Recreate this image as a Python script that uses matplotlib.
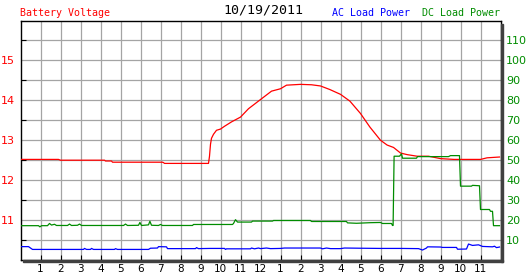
import numpy as np
import matplotlib
matplotlib.use('Agg')
import matplotlib.pyplot as plt
from matplotlib.patches import Rectangle

# Battery voltage (hour of day, volts)
volt_hours = [0, 1.9, 2.0, 4.2, 4.25, 4.55, 4.6, 7.1, 7.15, 7.2, 9.4, 9.45, 9.5, 9.55,
              9.65, 9.8, 10.0, 10.2, 10.55, 11.0, 11.4, 12.0, 12.55, 13.0, 13.3, 14.0,
              14.55, 15.0, 15.47, 16.0, 16.47, 17.0, 17.47, 18.0, 18.33, 18.65, 19.0,
              19.33, 19.83, 20.4, 21.0, 21.67, 23.0, 23.33, 23.95]
volt_values = [12.52, 12.52, 12.50, 12.50, 12.48, 12.48, 12.45, 12.45, 12.44, 12.42, 12.42,
               12.6, 12.9, 13.05, 13.15, 13.25, 13.28, 13.35, 13.46, 13.58, 13.79, 14.02,
               14.23, 14.29, 14.38, 14.40, 14.39, 14.36, 14.27, 14.15, 13.98, 13.67, 13.33,
               13.0, 12.88, 12.82, 12.68, 12.64, 12.60, 12.60, 12.54, 12.52, 12.52, 12.56,
               12.58]

# DC load power (hour, watts)
dc_hours = [0, 0.9, 0.97, 1.05, 1.35, 1.45, 1.55, 1.7, 1.8, 2.35, 2.45, 2.55, 2.85, 2.95,
            3.05, 5.15, 5.25, 5.35, 5.9, 5.97, 6.05, 6.4, 6.47, 6.55, 6.9, 7.0, 7.1, 8.6,
            8.65, 10.6, 10.65, 10.75, 10.85, 11.55, 11.6, 12.6, 12.65, 14.5, 14.55, 16.3,
            16.35, 16.8, 17.5, 18.0, 18.1, 18.55, 18.6, 18.63, 18.68, 18.95, 19.05, 19.1,
            19.8, 19.85, 21.4, 21.5, 21.95, 22.0, 22.55, 22.6, 22.95, 23.0, 23.45, 23.5,
            23.6, 23.65, 23.95]
dc_values = [17.2, 17.2, 16.6, 17.2, 17.2, 18.3, 17.5, 17.9, 17.3, 17.3, 18.0, 17.3, 17.4,
             18.0, 17.3, 17.3, 18.0, 17.3, 17.4, 18.8, 17.3, 17.6, 19.4, 17.4, 17.3, 17.8,
             17.3, 17.3, 17.8, 17.8, 18.3, 20.2, 19.0, 19.0, 19.5, 19.5, 19.8, 19.8, 19.3,
             19.3, 18.6, 18.4, 18.7, 18.8, 18.3, 18.3, 17.3, 17.3, 52.0, 52.0, 53.2, 51.0,
             51.0, 51.8, 51.8, 52.3, 52.3, 37.0, 37.0, 37.4, 37.2, 25.3, 25.3, 24.4, 24.4,
             17.2, 17.2]

# AC load power (hour, watts)
ac_hours = [0, 0.4, 0.5, 0.6, 3.15, 3.2, 3.3, 3.5, 3.55, 3.65, 4.7, 4.75, 4.85, 6.4, 6.5,
            6.85, 6.9, 7.3, 7.35, 8.75, 8.8, 8.9, 9.5, 10.2, 10.25, 10.3, 11.5, 11.55, 11.7,
            11.9, 12.0, 12.3, 12.5, 13.0, 13.2, 15.0, 15.1, 15.3, 15.5, 16.0, 16.2, 17.0,
            18.0, 19.0, 19.9, 20.1, 20.3, 20.35, 21.0, 21.1, 21.8, 21.85, 22.3, 22.4, 22.6,
            22.9, 23.1, 23.6, 23.7, 23.8, 23.95]
ac_values = [6.7, 6.7, 6.0, 5.3, 5.3, 5.8, 5.3, 5.3, 5.8, 5.3, 5.3, 5.7, 5.3, 5.3, 5.9,
             6.0, 6.7, 6.6, 5.7, 5.7, 6.2, 5.7, 5.8, 5.8, 5.3, 5.6, 5.6, 6.0, 5.6, 6.0, 5.7,
             6.0, 5.7, 5.8, 6.0, 6.0, 5.6, 6.0, 5.7, 5.7, 6.0, 5.9, 5.8, 5.8, 5.7, 5.0, 6.0,
             6.6, 6.5, 6.3, 6.3, 5.4, 5.5, 8.0, 7.3, 7.6, 6.8, 6.6, 6.9, 6.2, 6.5]

hour_ticks = list(range(1, 24))
hour_labels = [str(h) for h in range(1, 13)] + [str(h) for h in range(1, 12)]
volt_ticks = [11, 12, 13, 14, 15]
power_ticks = list(range(10, 120, 10))

RED = '#ff0000'
GREEN = '#008c00'
BLUE = '#0000ff'
GRID = '#a4a4a4'

W, H = 527, 280
fig = plt.figure(figsize=(W / 100, H / 100), dpi=100)
fig.patch.set_facecolor('white')

x0, y0, w, h = 20.5, 20.5, 480, 239.5  # pixels, y from top
ax = fig.add_axes([x0 / W, (H - y0 - h) / H, w / W, h / H])

# shadow along right and bottom edges
fig.patches.append(Rectangle(((x0 + w + 0.5) / W, (H - y0 - h - 2) / H), 2 / W, (h - 1) / H,
                             transform=fig.transFigure, color='#404040', zorder=0))
fig.patches.append(Rectangle(((x0 + 2) / W, (H - y0 - h - 2) / H), (w + 0.5) / W, 2 / H,
                             transform=fig.transFigure, color='#404040', zorder=0))

ax.set_xlim(0, 24)
ax.set_ylim(10, 16)
ax.set_xticks(hour_ticks)
ax.set_xticklabels(hour_labels)
ax.set_yticks(volt_ticks)
ax.set_yticks(np.arange(10.5, 16, 1.0), minor=True)
for v in np.arange(10.5, 16, 0.5):
    ax.axhline(v, color=GRID, lw=0.9, zorder=0)
for hr in hour_ticks:
    ax.axvline(hr, color=GRID, lw=0.9, zorder=0)

ax.tick_params(axis='x', direction='in', length=3.5, width=0.8, colors='black',
               labelsize=7.5, pad=3)
ax.tick_params(axis='y', which='major', length=0, labelsize=8, labelcolor=RED, pad=4)
ax.tick_params(axis='y', which='minor', direction='in', length=3.5, width=0.8, color='black')
for s in ax.spines.values():
    s.set_color('black')
    s.set_linewidth(1.0)

ax.plot(volt_hours, volt_values, color=RED, lw=0.9, zorder=3)

ax2 = ax.twinx()
ax2.set_ylim(0, 120)
ax2.set_yticks(power_ticks)
ax2.tick_params(axis='y', length=0, labelsize=8, labelcolor=GREEN, pad=4)
for s in ax2.spines.values():
    s.set_visible(False)
ax2.plot(dc_hours, dc_values, color=GREEN, lw=0.9, zorder=3)
ax2.plot(ac_hours, ac_values, color=BLUE, lw=0.9, zorder=3)

mono = 'DejaVu Sans Mono'
fig.text(20 / W, 1 - 13 / H, 'Battery Voltage', color=RED, family=mono, fontsize=7.2,
         ha='left', va='center')
fig.text(263 / W, 1 - 10 / H, '10/19/2011', color='black', family=mono, fontsize=9.5,
         ha='center', va='center')
fig.text(331.5 / W, 1 - 13 / H, 'AC Load Power', color=BLUE, family=mono, fontsize=7.2,
         ha='left', va='center')
fig.text(421.5 / W, 1 - 13 / H, 'DC Load Power', color=GREEN, family=mono, fontsize=7.2,
         ha='left', va='center')

fig.savefig('out.png', dpi=100)
